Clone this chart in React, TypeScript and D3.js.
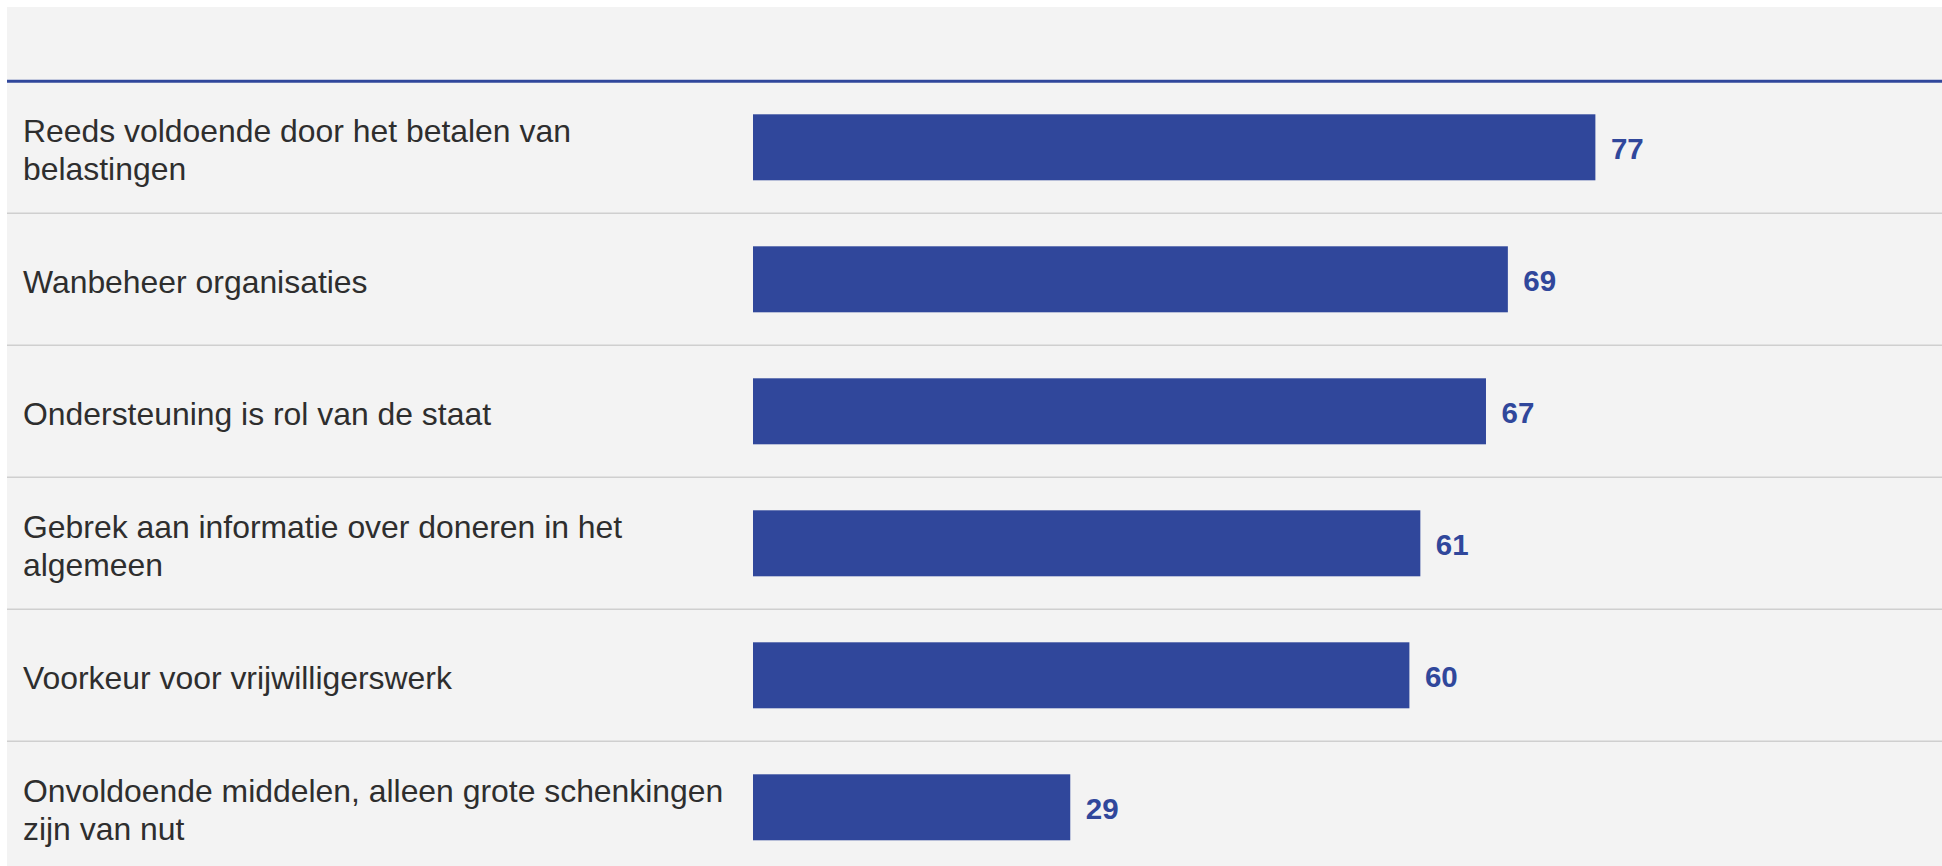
import React from "react";
import * as d3 from "d3";

const categories: string[] = [
  "Reeds voldoende door het betalen van\nbelastingen",
  "Wanbeheer organisaties",
  "Ondersteuning is rol van de staat",
  "Gebrek aan informatie over doneren in het\nalgemeen",
  "Voorkeur voor vrijwilligerswerk",
  "Onvoldoende middelen, alleen grote schenkingen\nzijn van nut",
];
const values: number[] = [77, 69, 67, 61, 60, 29];

const W = 1942;
const H = 866;
const BG = "#f3f3f3";
const BLUE = "#30479b";
const TEXT = "#2e2e2e";
const FONT = "'Liberation Sans', Arial, Helvetica, sans-serif";

export default function App() {
  const top = 81.3;
  const rowH = 132;
  const y = d3
    .scaleBand<number>()
    .domain(d3.range(categories.length))
    .range([top, top + rowH * categories.length])
    .paddingInner(0)
    .paddingOuter(0);
  const x = d3.scaleLinear().domain([0, 100]).range([753, 1847]);
  const barH = y.bandwidth() * 0.5;
  const lineH = 38;

  return (
    <svg
      width={W}
      height={H}
      style={{ position: "absolute", left: 0, top: 0, display: "block" }}
      fontFamily={FONT}
    >
      <rect x={7} y={7} width={W - 7} height={H - 7} fill={BG} />
      <line x1={7} x2={W} y1={top} y2={top} stroke={BLUE} strokeWidth={3} />
      {categories.map((c, i) => {
        const y0 = y(i)!;
        const cy = y0 + y.bandwidth() / 2;
        const lines = c.split("\n");
        return (
          <g key={i}>
            {i > 0 && (
              <line x1={7} x2={W} y1={y0} y2={y0} stroke="#cfcfcf" strokeWidth={1.5} />
            )}
            <text fill={TEXT} fontSize={31.9} x={23}>
              {lines.map((l, j) => (
                <tspan key={j} x={23} y={cy + 13.3 + (j - (lines.length - 1) / 2) * lineH}>
                  {l}
                </tspan>
              ))}
            </text>
            <rect
              x={x(0)}
              y={cy - barH / 2}
              width={x(values[i]) - x(0)}
              height={barH}
              fill={BLUE}
            />
            <text
              x={x(values[i]) + 15.5}
              y={cy + 11.7}
              fill={BLUE}
              fontSize={29.5}
              fontWeight="bold"
            >
              {values[i]}
            </text>
          </g>
        );
      })}
    </svg>
  );
}
